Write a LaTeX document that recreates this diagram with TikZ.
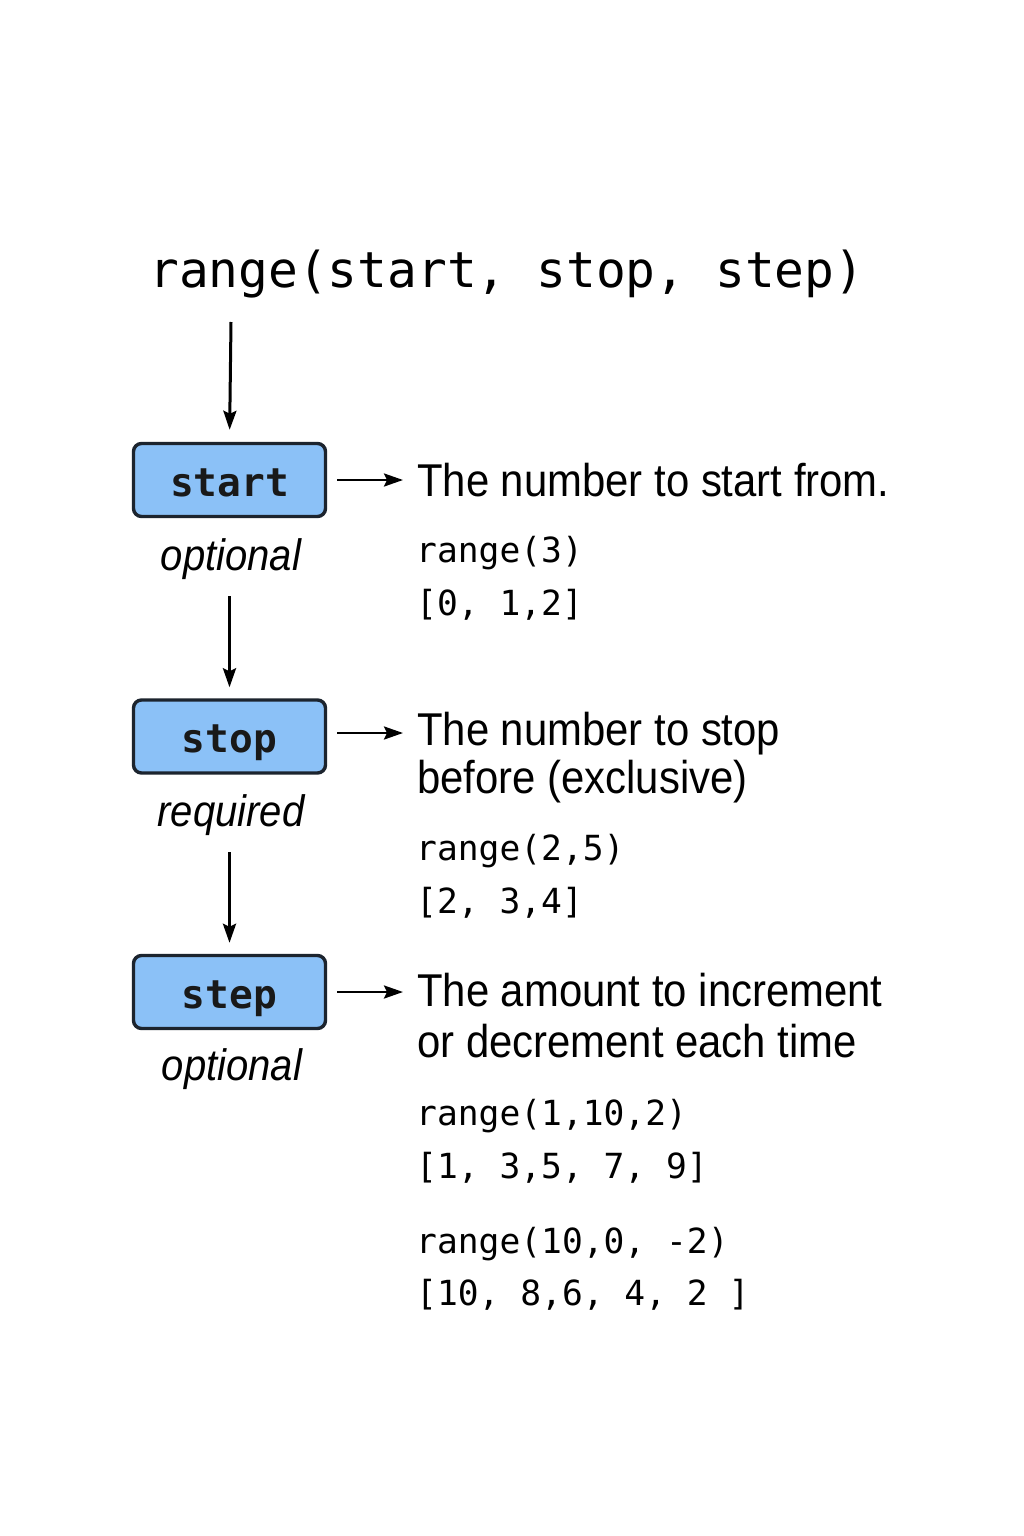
\documentclass[tikz,border=0pt]{standalone}
\usepackage{fontspec}
\setmainfont{Liberation Sans}
\newfontfamily\descfont[FakeStretch=0.91]{Liberation Sans}
\newfontfamily\codefont{DejaVu Sans Mono}
\usetikzlibrary{arrows.meta}
\definecolor{boxblue}{RGB}{139,193,247}
\definecolor{boxedge}{RGB}{28,36,46}
\tikzset{
  box/.style={draw=boxedge, line width=3.4pt, fill=boxblue, rounded corners=8pt,
    minimum width=192pt, minimum height=73pt, inner sep=0pt,
    text height=34pt, text depth=2pt,
    font=\codefont\bfseries\fontsize{39.5}{39.5}\selectfont, text=black!90},
  lab/.style={anchor=base, inner sep=0pt, font=\descfont\itshape\fontsize{44}{44}\selectfont},
  desc/.style={anchor=base west, inner sep=0pt, font=\descfont\fontsize{46}{46}\selectfont},
  code/.style={anchor=base west, inner sep=0pt, font=\codefont\fontsize{34.6}{34.6}\selectfont},
  title/.style={anchor=base west, inner sep=0pt, font=\codefont\fontsize{49.5}{49.5}\selectfont},
  arr/.style={-{Stealth[length=19pt,width=13pt,inset=3pt]}, line width=3pt},
}
\begin{document}
\begin{tikzpicture}[x=1pt,y=-1pt]
\useasboundingbox[fill=white] (0,0) rectangle (1024,1536);

\node[title] (title) at (149,287) {range(start, stop, step)};
\coordinate (t0) at (231,322);

% boxes
\node[box] (startbox) at (229.5,480) {start};
\node[box] (stopbox) at (229.5,736.5) {stop};
\node[box] (stepbox) at (229.5,992) {step};

% labels
\node[lab] (opt1) at (231,570) {optional};
\node[lab] (req) at (231,826) {required};
\node[lab] (opt2) at (232,1080) {optional};

% vertical arrows
\draw[arr, shorten >=12pt] (t0) -- (startbox.north);
\draw[arr, shorten <=17pt, shorten >=11pt] (opt1.south -| startbox.north) -- (stopbox.north);
\draw[arr, shorten <=17pt, shorten >=11pt] (req.south -| stopbox.north) -- (stepbox.north);

% descriptions
\node[desc] (d1) at (417,496) {The number to start from.};
\node[code] (c1a) at (416,562) {range(3)};
\node[code] (c1b) at (416,615) {[0, 1,2]};

\node[desc] (d2a) at (417,745) {The number to stop};
\node[desc] (d2b) at (417,793) {before (exclusive)};
\node[code] (c2a) at (416,860) {range(2,5)};
\node[code] (c2b) at (416,913) {[2, 3,4]};

\node[desc] (d3a) at (417,1006) {The amount to increment};
\node[desc] (d3b) at (417,1057) {or decrement each time};
\node[code] (c3a) at (416,1125) {range(1,10,2)};
\node[code] (c3b) at (416,1178) {[1, 3,5, 7, 9]};
\node[code] (c4a) at (416,1253) {range(10,0, -2)};
\node[code] (c4b) at (416,1305) {[10, 8,6, 4, 2 ]};

% horizontal arrows
\draw[arr, line width=2.6pt, shorten <=10pt, shorten >=14pt] (startbox.east) -- (startbox.east -| d1.west);
\draw[arr, line width=2.6pt, shorten <=10pt, shorten >=14pt] ([yshift=3.5pt]stopbox.east) -- ([yshift=3.5pt]stopbox.east -| d2a.west);
\draw[arr, line width=2.6pt, shorten <=10pt, shorten >=14pt] (stepbox.east) -- (stepbox.east -| d3a.west);
\end{tikzpicture}
\end{document}
